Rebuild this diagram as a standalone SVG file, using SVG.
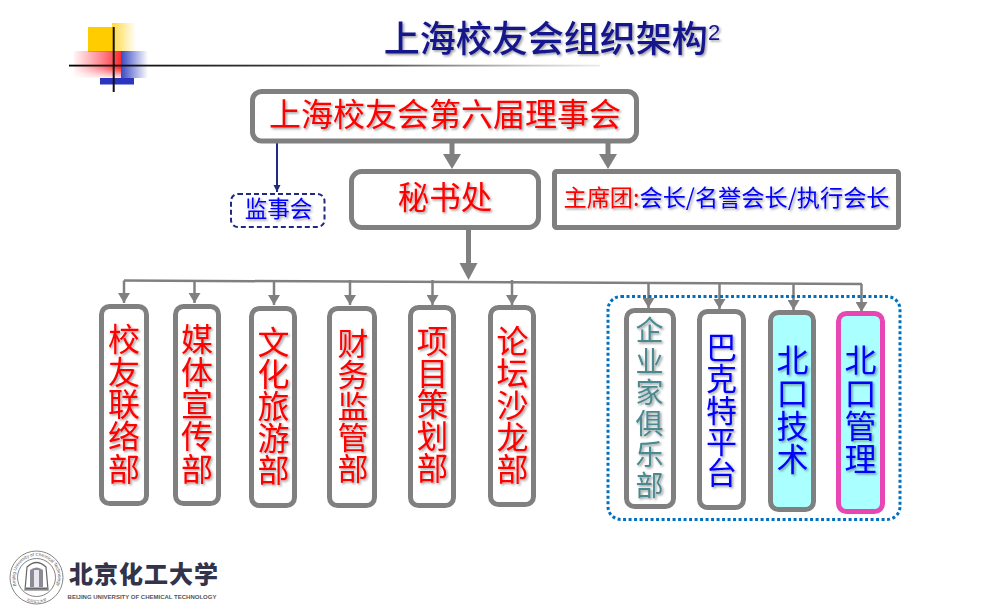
<svg xmlns="http://www.w3.org/2000/svg" width="1004" height="611" viewBox="0 0 1004 611">
<style>
text{font-family:"Noto Sans CJK SC","Liberation Sans",sans-serif;text-anchor:middle}
.sh{filter:url(#ts)}
.v{writing-mode:vertical-rl}
.r{fill:#ff0000}.b{fill:#0000ff}.t{fill:#4a8a90}
.box{fill:#fff;stroke:#808080;stroke-width:5}
.cy{fill:#aaffff}
.ln{fill:none;stroke:#808080;stroke-width:2.500}
.th{fill:none;stroke:#808080;stroke-width:5}
</style>
<defs>
<filter id="ts" x="-15%" y="-15%" width="130%" height="130%"><feDropShadow dx="1.500" dy="1.500" stdDeviation="1" flood-color="#000" flood-opacity=".4"/></filter>
<marker id="aS" markerUnits="userSpaceOnUse" markerWidth="12" markerHeight="12" refX="10" refY="6" orient="auto"><path d="M0 0L10 6L0 12z" fill="#808080"/></marker>
<marker id="aN" markerUnits="userSpaceOnUse" markerWidth="8" markerHeight="8" refX="7" refY="4" orient="auto"><path d="M0 .5L7 4L0 7.500z" fill="#1f2a80"/></marker>
<linearGradient id="gY"><stop offset="0" stop-color="#ffcc00" stop-opacity=".75"/><stop offset="1" stop-color="#ffcc00" stop-opacity="0"/></linearGradient>
<linearGradient id="gR"><stop offset="0" stop-color="#ff3040" stop-opacity=".05"/><stop offset=".6" stop-color="#ff3040" stop-opacity=".6"/><stop offset="1" stop-color="#ff2020" stop-opacity=".95"/></linearGradient>
<linearGradient id="gR2" x2="0" y2="1"><stop offset="0" stop-color="#fff" stop-opacity="0"/><stop offset="1" stop-color="#fff" stop-opacity=".9"/></linearGradient>
<linearGradient id="gB"><stop offset="0" stop-color="#3040c0" stop-opacity=".95"/><stop offset="1" stop-color="#3040c0" stop-opacity="0"/></linearGradient>
<linearGradient id="gL"><stop offset="0" stop-color="#000"/><stop offset=".6" stop-color="#555"/><stop offset="1" stop-color="#999" stop-opacity=".2"/></linearGradient>
<path id="sealTop" d="M19 590A21.500 21.500 0 1 1 54 590"/>
<path id="sealBot" d="M19 595.500A25 25 0 0 0 54 595.500"/>
</defs>
<rect width="1004" height="611" fill="#fff"/>
<g id="decoration">
<rect x="88" y="27" width="25" height="25" fill="#ffcc00"/>
<rect x="112" y="23" width="24" height="29" fill="url(#gY)"/>
<rect x="74" y="51" width="47" height="27" fill="url(#gR)"/>
<rect x="121" y="51" width="27" height="27" fill="url(#gB)"/>
<rect x="74" y="68" width="47" height="10" fill="url(#gR2)"/>
<rect x="100" y="78" width="34" height="6.500" fill="#2a35c0"/>
<rect x="69" y="64.700" width="531" height="1.800" fill="url(#gL)"/>
<rect x="112.700" y="27" width="2" height="65" fill="#111"/>
</g>
<g id="title"><text x="552" y="52" font-size="36" font-weight="500" fill="#14148c" class="sh">上海校友会组织架构<tspan font-size="22" font-weight="400" dy="-12" style="font-family:'Liberation Sans',sans-serif">2</tspan></text></g>
<g id="connectors">
<path d="M277 143V192" fill="none" stroke="#1f2a80" stroke-width="2" marker-end="url(#aN)"/>
<path class="th" d="M452 143V155"/><path d="M443 154H461L452 169z" fill="#808080"/>
<path class="th" d="M608 143V155"/><path d="M599 154H617L608 169z" fill="#808080"/>
<path class="th" d="M468.500 230V265"/><path d="M459.500 263H477.500L468.500 280z" fill="#808080"/>
<path class="ln" d="M124 280.500L862 284" stroke-width="3"/>
<path class="ln" d="M124 280.500V303" marker-end="url(#aS)"/>
<path class="ln" d="M194.500 280V303" marker-end="url(#aS)"/>
<path class="ln" d="M274 280V305" marker-end="url(#aS)"/>
<path class="ln" d="M350 280V305" marker-end="url(#aS)"/>
<path class="ln" d="M432.500 280V305" marker-end="url(#aS)"/>
<path class="ln" d="M512 280V305" marker-end="url(#aS)"/>
<path class="ln" d="M648.500 283V308" marker-end="url(#aS)"/>
<path class="ln" d="M719.500 283V309" marker-end="url(#aS)"/>
<path class="ln" d="M793.500 283V310" marker-end="url(#aS)"/>
<path class="ln" d="M861.500 284V312" marker-end="url(#aS)"/>
</g>
<g id="group-frame"><rect x="608" y="296.500" width="292" height="223" rx="13" fill="none" stroke="#0070c0" stroke-width="3" stroke-dasharray="3 2.500"/></g>
<g id="board"><rect class="box" x="252.500" y="91.500" width="384" height="49.500" rx="9"/><text x="445" y="126" font-size="32" class="r sh">上海校友会第六届理事会</text></g>
<g id="supervisors"><rect x="231" y="194" width="93.500" height="33" rx="7" fill="#fff" stroke="#1f2a80" stroke-width="2" stroke-dasharray="5 3"/><text x="278.500" y="217" font-size="22.500" class="b sh">监事会</text></g>
<g id="secretariat"><rect class="box" x="351.500" y="171.500" width="187" height="56" rx="10"/><text x="445" y="209" font-size="31.500" class="r sh">秘书处</text></g>
<g id="presidium"><rect class="box" x="554.500" y="171.500" width="344" height="56" rx="2"/><text x="726.500" y="206" font-size="23.200" class="sh"><tspan class="r">主席团:</tspan><tspan class="b">会长/名誉会长/执行会长</tspan></text></g>
<g id="dept1"><rect class="box" x="101.500" y="306.500" width="45" height="197" rx="8"/><text x="124" y="404" font-size="32" letter-spacing=".3" class="v r sh">校友联络部</text></g>
<g id="dept2"><rect class="box" x="175.500" y="306.500" width="43" height="197" rx="8"/><text x="197" y="404" font-size="32" letter-spacing=".3" class="v r sh">媒体宣传部</text></g>
<g id="dept3"><rect class="box" x="251.500" y="308.500" width="43" height="197" rx="8"/><text x="273.500" y="406" font-size="32" class="v r sh">文化旅游部</text></g>
<g id="dept4"><rect class="box" x="329.500" y="308.500" width="45" height="197" rx="8"/><text x="353" y="406" font-size="31" letter-spacing=".2" class="v r sh">财务监管部</text></g>
<g id="dept5"><rect class="box" x="410.500" y="307.500" width="43" height="198" rx="8"/><text x="432.500" y="404.500" font-size="31.500" letter-spacing=".3" class="v r sh">项目策划部</text></g>
<g id="dept6"><rect class="box" x="490.500" y="307.500" width="43" height="197" rx="8"/><text x="512.500" y="405" font-size="32" class="v r sh">论坛沙龙部</text></g>
<g id="dept7"><rect class="box" x="626.500" y="310.500" width="47" height="196" rx="8"/><text x="649.500" y="409" font-size="28" letter-spacing="3" class="v t sh">企业家俱乐部</text></g>
<g id="dept8"><rect class="box" x="699.500" y="311.500" width="44" height="196" rx="8"/><text x="721.500" y="410" font-size="31" letter-spacing=".2" class="v b sh">巴克特平台</text></g>
<g id="dept9"><rect class="box cy" x="770.500" y="312.500" width="43" height="197" rx="8"/><text x="792.500" y="410" font-size="32" letter-spacing="1" class="v b sh">北口技术</text></g>
<g id="dept10"><rect x="838.500" y="313.500" width="44" height="198" rx="8" fill="#aaffff" stroke="#e845b5" stroke-width="5"/><text x="860.500" y="410" font-size="32" letter-spacing="1" class="v b sh">北口管理</text></g>
<g id="logo" fill="#3a3a50">
<circle cx="36.500" cy="577.500" r="26.500" fill="none" stroke="#666" stroke-width=".8"/>
<circle cx="36.500" cy="577.500" r="19" fill="none" stroke="#666" stroke-width=".8"/>
<text font-size="4.500" fill="#555" style="font-family:'Liberation Sans',sans-serif"><textPath href="#sealTop" startOffset="50%">Beijing University of Chemical Technology</textPath></text>
<text font-size="3.500" fill="#555"><textPath href="#sealBot" startOffset="50%">北京化工大学</textPath></text>
<path d="M25 590L27 567Q36.500 558 46 567L48 590z" fill="#fff" stroke="#666" stroke-width="1.200"/>
<path d="M30 587V570Q36.500 565 43 570V587z" fill="#8b8b95"/>
<rect x="34" y="570" width="5" height="17" fill="#e8e8ee"/>
<rect x="26" y="587.500" width="21" height="2" fill="#666"/>
<text x="144" y="583" font-size="24" font-weight="900" letter-spacing="1" fill="#33334a">北京化工大学</text>
<text x="142" y="599" font-size="6" font-weight="700" fill="#555" style="font-family:'Liberation Sans',sans-serif">BEIJING UNIVERSITY OF CHEMICAL TECHNOLOGY</text>
</g>
</svg>
